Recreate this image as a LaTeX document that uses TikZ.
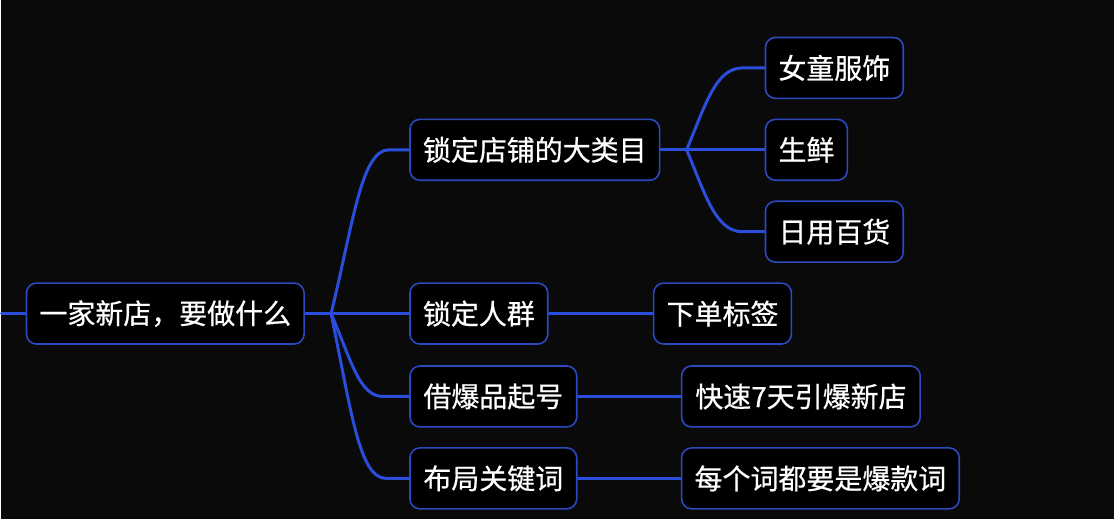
\documentclass[tikz,border=0pt]{standalone}
\usepackage{fontspec}
\setmainfont{Noto Sans CJK SC}[FakeBold=0.6]
\usetikzlibrary{backgrounds}
\definecolor{bg}{HTML}{0A0A0A}
\definecolor{edge}{HTML}{2B4DDC}
\definecolor{frame}{HTML}{2C49BE}
\begin{document}
\begin{tikzpicture}[x=1pt,y=-1pt,
  box/.style={draw=frame, line width=1.6pt, fill=black, rounded corners=10pt,
    text=white, font=\fontsize{28}{31}\selectfont, minimum height=61pt, inner sep=0pt, anchor=center},
  link/.style={draw=edge, line width=3pt, line cap=round}]
% nodes
\node[box, minimum width=278pt] (root) at (164,314) {一家新店，要做什么};
\node[box, minimum width=250pt] (a1) at (534,150) {锁定店铺的大类目};
\node[box, minimum width=138pt] (a2) at (478,314) {锁定人群};
\node[box, minimum width=167pt] (a3) at (492.5,397) {借爆品起号};
\node[box, minimum width=167pt] (a4) at (492.5,479) {布局关键词};
\node[box, minimum width=138pt] (b1) at (834,68) {女童服饰};
\node[box, minimum width=82pt] (b2) at (806,150) {生鲜};
\node[box, minimum width=138pt] (b3) at (834,232) {日用百货};
\node[box, minimum width=138pt] (c1) at (722,314) {下单标签};
\node[box, minimum width=239pt] (c2) at (800.5,397) {快速7天引爆新店};
\node[box, minimum width=278pt] (c3) at (820,479) {每个词都要是爆款词};
% junctions
\coordinate (l0) at (0,314);
\coordinate (j1) at (330,314);
\coordinate (j2) at (686,150);
\coordinate (h1) at (388,150);
\coordinate (h3) at (382,397);
\coordinate (h4) at (385,479);
\coordinate (g1) at (742,68);
\coordinate (g3) at (742,232);
\begin{scope}[on background layer]
\fill[bg] (0,0) rectangle (1114,520);
\draw[link] (l0) -- (root.west);
\draw[link] (root.east) -- (j1);
\draw[link] (j1) .. controls (352,225) and (360,150) .. (h1) -- (a1.west);
\draw[link] (j1) -- (a2.west);
\draw[link] (j1) .. controls (350,360) and (358,397) .. (h3) -- (a3.west);
\draw[link] (j1) .. controls (350,410) and (358,479) .. (h4) -- (a4.west);
\draw[link] (a1.east) -- (j2);
\draw[link] (j2) .. controls (705,105) and (715,68) .. (g1) -- (b1.west);
\draw[link] (j2) -- (b2.west);
\draw[link] (j2) .. controls (705,195) and (715,232) .. (g3) -- (b3.west);
\draw[link] (a2.east) -- (c1.west);
\draw[link] (a3.east) -- (c2.west);
\draw[link] (a4.east) -- (c3.west);
\end{scope}
\useasboundingbox (0,0) rectangle (1114,520);
\end{tikzpicture}
\end{document}
